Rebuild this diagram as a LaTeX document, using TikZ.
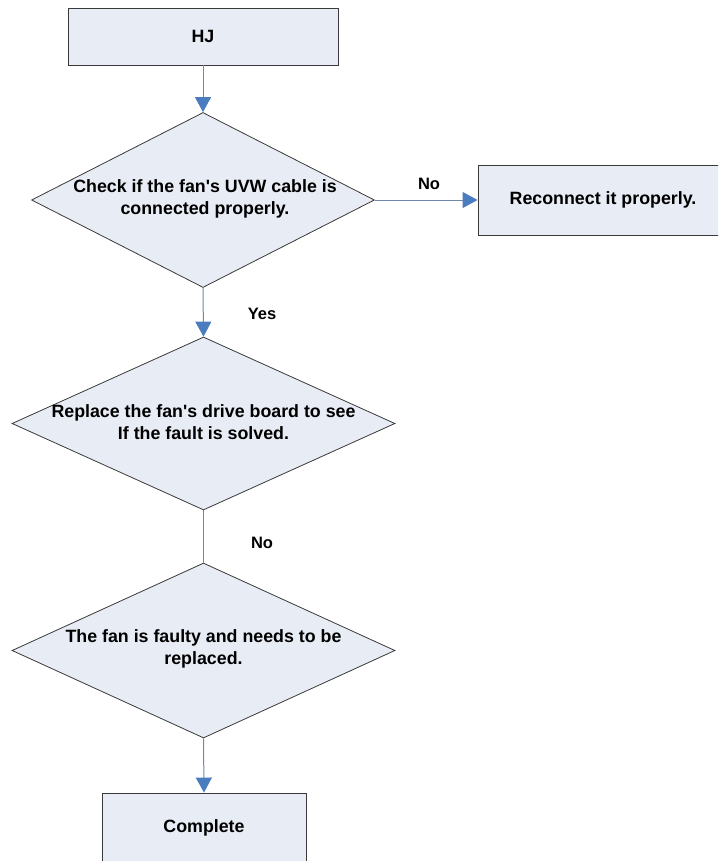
\documentclass[tikz,border=0pt]{standalone}
\usepackage{fontspec}
\setmainfont{Liberation Sans}
\usetikzlibrary{shapes.geometric,arrows.meta}

\definecolor{boxfill}{HTML}{E8ECF5}
\definecolor{boxline}{HTML}{3A3A3A}
\definecolor{linkline}{HTML}{7088AE}
\definecolor{tipfill}{HTML}{4A7CC0}

\tikzset{
  txt/.style={font=\fontsize{17.8}{22}\selectfont\bfseries, align=center, inner sep=0pt},
  procbox/.style={draw=boxline, fill=boxfill, line width=0.9pt, rectangle, inner sep=0pt},
  decision/.style={draw=boxline, fill=boxfill, line width=0.8pt, diamond, inner sep=0pt},
  link/.style={draw=linkline, line width=1pt},
  flow/.style={link, -{Triangle[width=16pt,length=15pt,fill=tipfill,color=tipfill]}},
  tag/.style={font=\fontsize{16.5}{19}\selectfont\bfseries, inner sep=0pt}
}

\begin{document}
\begin{tikzpicture}[x=1pt,y=-1pt]
  \useasboundingbox (0,0) rectangle (718,861);
  \fill[white] (0,0) rectangle (718,861);
  \clip (0,0) rectangle (718,861);

  % process boxes
  \node[procbox, minimum width=270pt, minimum height=57pt] (hj) at (203,36.5) {};
  \node[txt] (hjt) at (hj) {HJ};

  \node[procbox, minimum width=250pt, minimum height=70pt] (rc) at (603,200) {};
  \node[txt] (rct) at (rc) {Reconnect it properly.};

  \node[procbox, minimum width=204pt, minimum height=70pt] (done) at (204,828) {};
  \node[txt] (donet) at (done) {Complete};

  % decisions
  \node[decision, minimum width=343pt, minimum height=175pt] (d1) at (203,200) {};
  \node[txt] (d1t) at (205,199) {Check if the fan\textquotesingle s UVW cable is\\connected properly.};

  \node[decision, minimum width=383pt, minimum height=173pt] (d2) at (203.5,423.5) {};
  \node[txt] (d2t) at (203.5,422) {Replace the fan\textquotesingle s drive board to see\\If the fault is solved.};

  \node[decision, minimum width=383pt, minimum height=175pt] (d3) at (203.5,650.5) {};
  \node[txt] (d3t) at (203.5,649) {The fan is faulty and needs to be\\replaced.};

  % connectors
  \draw[flow] (hj.south) -- (d1.north);
  \draw[flow] (d1.east) -- (rc.west);
  \draw[flow] (d1.south) -- (d2.north);
  \draw[link] (d2.south) -- (d3.north);
  \draw[flow] (d3.south) -- (done.north);

  % branch labels
  \node[tag] (lno1) at (429,184) {No};
  \node[tag] (lyes) at (262,314) {Yes};
  \node[tag] (lno2) at (262,543) {No};
\end{tikzpicture}
\end{document}
